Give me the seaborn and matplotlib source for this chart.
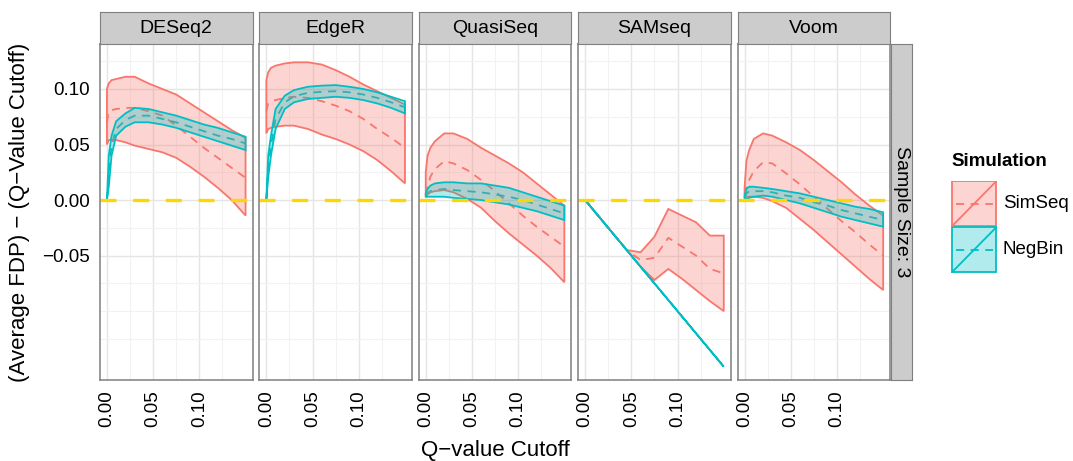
import numpy as np
import pandas as pd
import matplotlib
matplotlib.use("Agg")
import matplotlib.pyplot as plt
import seaborn as sns
from matplotlib.patches import Rectangle

# Q-value cutoffs (shared by all panels)
q_cutoff = [0, 0.002, 0.005, 0.01, 0.02, 0.03, 0.045, 0.06, 0.075, 0.09, 0.105, 0.12, 0.135, 0.15]
methods = ["DESeq2", "EdgeR", "QuasiSeq", "SAMseq", "Voom"]
simulations = ["SimSeq", "NegBin"]

# DESeq2
deseq2_sim_lo = [0.050, 0.054, 0.054, 0.054, 0.052, 0.049, 0.046, 0.043, 0.038, 0.030, 0.021, 0.011, 0.000, -0.014]
deseq2_sim_mid = [0.070, 0.080, 0.081, 0.082, 0.083, 0.083, 0.080, 0.076, 0.067, 0.057, 0.047, 0.038, 0.029, 0.020]
deseq2_sim_hi = [0.100, 0.105, 0.108, 0.109, 0.111, 0.111, 0.105, 0.100, 0.095, 0.087, 0.079, 0.071, 0.063, 0.056]
deseq2_nb_lo = [0.000, 0.012, 0.040, 0.058, 0.066, 0.070, 0.070, 0.068, 0.065, 0.061, 0.057, 0.053, 0.049, 0.045]
deseq2_nb_mid = [0.000, 0.026, 0.049, 0.064, 0.072, 0.076, 0.076, 0.073, 0.070, 0.066, 0.062, 0.058, 0.055, 0.051]
deseq2_nb_hi = [0.000, 0.040, 0.058, 0.071, 0.078, 0.083, 0.082, 0.079, 0.076, 0.072, 0.068, 0.065, 0.061, 0.057]

# EdgeR
edger_sim_lo = [0.060, 0.064, 0.065, 0.066, 0.067, 0.067, 0.064, 0.059, 0.055, 0.050, 0.044, 0.036, 0.026, 0.015]
edger_sim_mid = [0.080, 0.087, 0.089, 0.090, 0.092, 0.093, 0.092, 0.089, 0.085, 0.080, 0.073, 0.064, 0.056, 0.047]
edger_sim_hi = [0.108, 0.115, 0.119, 0.121, 0.123, 0.124, 0.124, 0.122, 0.117, 0.111, 0.104, 0.098, 0.092, 0.086]
edger_nb_lo = [0.000, 0.020, 0.040, 0.064, 0.082, 0.088, 0.091, 0.092, 0.093, 0.092, 0.090, 0.087, 0.083, 0.078]
edger_nb_mid = [0.000, 0.030, 0.049, 0.073, 0.088, 0.0935, 0.0965, 0.0975, 0.098, 0.097, 0.095, 0.092, 0.088, 0.0835]
edger_nb_hi = [0.000, 0.040, 0.058, 0.082, 0.094, 0.099, 0.102, 0.103, 0.1035, 0.102, 0.100, 0.097, 0.093, 0.089]

# QuasiSeq
quasi_sim_lo = [0.003, 0.005, 0.007, 0.008, 0.009, 0.007, 0.001, -0.007, -0.019, -0.030, -0.040, -0.050, -0.061, -0.074]
quasi_sim_mid = [0.005, 0.012, 0.021, 0.028, 0.035, 0.033, 0.027, 0.018, 0.008, -0.003, -0.014, -0.024, -0.033, -0.042]
quasi_sim_hi = [0.025, 0.040, 0.047, 0.053, 0.060, 0.060, 0.055, 0.047, 0.040, 0.033, 0.025, 0.015, 0.005, -0.005]
quasi_nb_lo = [0.003, 0.003, 0.003, 0.003, 0.003, 0.002, 0.001, 0.000, -0.002, -0.004, -0.007, -0.010, -0.014, -0.018]
quasi_nb_mid = [0.004, 0.006, 0.008, 0.009, 0.010, 0.009, 0.008, 0.007, 0.005, 0.003, 0.000, -0.004, -0.008, -0.012]
quasi_nb_hi = [0.006, 0.010, 0.013, 0.015, 0.016, 0.016, 0.015, 0.015, 0.013, 0.011, 0.007, 0.003, -0.001, -0.005]

# SAMseq
sam_sim_lo = [0.000, -0.002, -0.005, -0.010, -0.020, -0.030, -0.045, -0.060, -0.072, -0.062, -0.071, -0.081, -0.091, -0.100]
sam_sim_mid = [0.000, -0.002, -0.005, -0.010, -0.020, -0.030, -0.045, -0.054, -0.052, -0.034, -0.042, -0.050, -0.062, -0.066]
sam_sim_hi = [0.000, -0.002, -0.005, -0.010, -0.020, -0.030, -0.045, -0.047, -0.033, -0.008, -0.014, -0.020, -0.032, -0.032]
sam_nb_lo = [0.000, -0.002, -0.005, -0.010, -0.020, -0.030, -0.045, -0.060, -0.075, -0.090, -0.105, -0.120, -0.135, -0.150]
sam_nb_mid = [0.000, -0.002, -0.005, -0.010, -0.020, -0.030, -0.045, -0.060, -0.075, -0.090, -0.105, -0.120, -0.135, -0.150]
sam_nb_hi = [0.000, -0.002, -0.005, -0.010, -0.020, -0.030, -0.045, -0.060, -0.075, -0.090, -0.105, -0.120, -0.135, -0.150]

# Voom
voom_sim_lo = [0.002, 0.003, 0.003, 0.003, 0.002, -0.001, -0.007, -0.017, -0.027, -0.038, -0.049, -0.060, -0.071, -0.081]
voom_sim_mid = [0.005, 0.012, 0.018, 0.026, 0.034, 0.033, 0.024, 0.014, 0.003, -0.008, -0.019, -0.029, -0.040, -0.050]
voom_sim_hi = [0.010, 0.035, 0.045, 0.055, 0.060, 0.058, 0.052, 0.045, 0.036, 0.026, 0.016, 0.005, -0.005, -0.014]
voom_nb_lo = [0.002, 0.001, 0.002, 0.003, 0.004, 0.003, 0.000, -0.003, -0.007, -0.011, -0.015, -0.018, -0.021, -0.024]
voom_nb_mid = [0.002, 0.006, 0.008, 0.008, 0.008, 0.007, 0.004, 0.002, -0.002, -0.005, -0.009, -0.012, -0.015, -0.018]
voom_nb_hi = [0.003, 0.010, 0.012, 0.012, 0.011, 0.010, 0.008, 0.006, 0.003, 0.000, -0.003, -0.006, -0.008, -0.011]

series = {
    ("DESeq2", "SimSeq"): (deseq2_sim_lo, deseq2_sim_mid, deseq2_sim_hi),
    ("DESeq2", "NegBin"): (deseq2_nb_lo, deseq2_nb_mid, deseq2_nb_hi),
    ("EdgeR", "SimSeq"): (edger_sim_lo, edger_sim_mid, edger_sim_hi),
    ("EdgeR", "NegBin"): (edger_nb_lo, edger_nb_mid, edger_nb_hi),
    ("QuasiSeq", "SimSeq"): (quasi_sim_lo, quasi_sim_mid, quasi_sim_hi),
    ("QuasiSeq", "NegBin"): (quasi_nb_lo, quasi_nb_mid, quasi_nb_hi),
    ("SAMseq", "SimSeq"): (sam_sim_lo, sam_sim_mid, sam_sim_hi),
    ("SAMseq", "NegBin"): (sam_nb_lo, sam_nb_mid, sam_nb_hi),
    ("Voom", "SimSeq"): (voom_sim_lo, voom_sim_mid, voom_sim_hi),
    ("Voom", "NegBin"): (voom_nb_lo, voom_nb_mid, voom_nb_hi),
}

rows = []
for (method, sim), (lo, mid, hi) in series.items():
    for q, a, b, c in zip(q_cutoff, lo, mid, hi):
        rows.append({"method": method, "sim": sim, "q": q, "lo": a, "mid": b, "hi": c})
df = pd.DataFrame(rows)

colors = {"SimSeq": "#F8766D", "NegBin": "#00BFC4"}

sns.set_style("white")
plt.rcParams["font.family"] = ["Liberation Sans", "DejaVu Sans"]
plt.rcParams["text.color"] = "black"
plt.rcParams["xtick.labelcolor"] = "black"
plt.rcParams["ytick.labelcolor"] = "black"

W, H = 1073, 461
fig = plt.figure(figsize=(W / 100, H / 100), dpi=100)

panel_left, panel_w, pitch = 100, 152.5, 159.4
panel_top, panel_bot = 44, 380
strip_top = 12
xlim = (-0.0075, 0.1575)
ylim = (-0.162, 0.1405)
border = "#7F7F7F"
mean_dash = (4.5, 3.6)


def px_box(x0, y0, x1, y1):
    return [x0 / W, 1 - y1 / H, (x1 - x0) / W, (y1 - y0) / H]


for i, method in enumerate(methods):
    x0 = panel_left + i * pitch
    ax = fig.add_axes(px_box(x0, panel_top, x0 + panel_w, panel_bot))
    ax.set_facecolor("white")
    ax.set_xlim(*xlim)
    ax.set_ylim(*ylim)

    # grid
    for gx in [0.025, 0.075, 0.125]:
        ax.axvline(gx, color="#F2F2F2", lw=0.8, zorder=0)
    for gx in [0.0, 0.05, 0.10]:
        ax.axvline(gx, color="#E5E5E5", lw=1.0, zorder=0)
    for gy in [-0.125, -0.1, -0.075, -0.025, 0.025, 0.075, 0.125]:
        ax.axhline(gy, color="#F2F2F2", lw=0.8, zorder=0)
    for gy in [-0.05, 0.0, 0.05, 0.10]:
        ax.axhline(gy, color="#E5E5E5", lw=1.0, zorder=0)

    sub = df[df["method"] == method]
    sns.lineplot(data=sub, x="q", y="mid", hue="sim", style="sim",
                 hue_order=simulations, palette=colors,
                 dashes={"SimSeq": mean_dash, "NegBin": mean_dash},
                 lw=1.3, legend=False, ax=ax, zorder=2)

    for sim in simulations:
        s = sub[sub["sim"] == sim]
        xs = list(s["q"]) + list(s["q"])[::-1]
        ys = list(s["hi"]) + list(s["lo"])[::-1]
        ax.fill(xs, ys, facecolor=colors[sim], alpha=0.3, edgecolor="none", zorder=3)
        ax.fill(xs, ys, fill=False, edgecolor=colors[sim], lw=1.3, zorder=3)

    ax.axhline(0, color="#FFD700", lw=2.4, dashes=(4.8, 5.0), zorder=4)

    ax.set_xlabel("")
    ax.set_ylabel("")
    ax.set_xticks([0.0, 0.05, 0.10])
    ax.set_xticklabels(["0.00", "0.05", "0.10"], rotation=90, fontsize=13.5)
    ax.tick_params(axis="x", length=4.5, width=1.2, color="#333333", pad=3)
    if i == 0:
        ax.set_yticks([-0.05, 0.0, 0.05, 0.10])
        ax.set_yticklabels(["\u22120.05", "0.00", "0.05", "0.10"], fontsize=13.5)
        ax.tick_params(axis="y", length=4.5, width=1.2, color="#333333", pad=3)
    else:
        ax.set_yticks([])
    for sp in ax.spines.values():
        sp.set_visible(True)
        sp.set_color(border)
        sp.set_linewidth(1.1)
        sp.set_zorder(5)

    # facet strip
    sax = fig.add_axes(px_box(x0, strip_top, x0 + panel_w, panel_top))
    sax.set_facecolor("#CCCCCC")
    sax.set_xticks([])
    sax.set_yticks([])
    for sp in sax.spines.values():
        sp.set_visible(True)
        sp.set_color(border)
        sp.set_linewidth(0.8)
    sax.text(0.5, 0.48, method, ha="center", va="center", fontsize=14, transform=sax.transAxes)

# right strip
rax = fig.add_axes(px_box(890.5, panel_top, 912, panel_bot))
rax.set_facecolor("#CCCCCC")
rax.set_xticks([])
rax.set_yticks([])
for sp in rax.spines.values():
    sp.set_visible(True)
    sp.set_color(border)
    sp.set_linewidth(0.8)
rax.text(0.5, 0.5, "Sample Size: 3", ha="center", va="center", rotation=-90,
         fontsize=14, transform=rax.transAxes)

# axis titles
fig.text(20 / W, 1 - 212 / H, "(Average FDP) \u2212 (Q\u2212Value Cutoff)", rotation=90,
         ha="center", va="center", fontsize=16)
fig.text(495 / W, 1 - 450 / H, "Q\u2212value Cutoff", ha="center", va="center", fontsize=16)

# legend
fig.text(951 / W, 1 - 162 / H, "Simulation", ha="left", va="center", fontsize=13.5, fontweight="bold")
lax = fig.add_axes(px_box(951, 180.7, 997.3, 272.7))
lax.set_xlim(0, 1)
lax.set_ylim(0, 2)
lax.axis("off")
for k, sim in enumerate(simulations):
    yb = 1 - k
    lax.add_patch(Rectangle((0.02, yb + 0.01), 0.96, 0.98, facecolor=colors[sim], alpha=0.3,
                            edgecolor="none"))
    lax.add_patch(Rectangle((0.02, yb + 0.01), 0.96, 0.98, fill=False, edgecolor=colors[sim], lw=1.3))
    lax.plot([0.02, 0.98], [yb + 0.01, yb + 0.99], color=colors[sim], lw=1.3)
    lax.plot([0.1, 0.9], [yb + 0.5, yb + 0.5], color=colors[sim], lw=1.3, dashes=mean_dash)
    fig.text(1003 / W, 1 - (203.5 + 46 * k) / H, sim, ha="left", va="center", fontsize=13.5)

fig.savefig("out.png", dpi=100)
